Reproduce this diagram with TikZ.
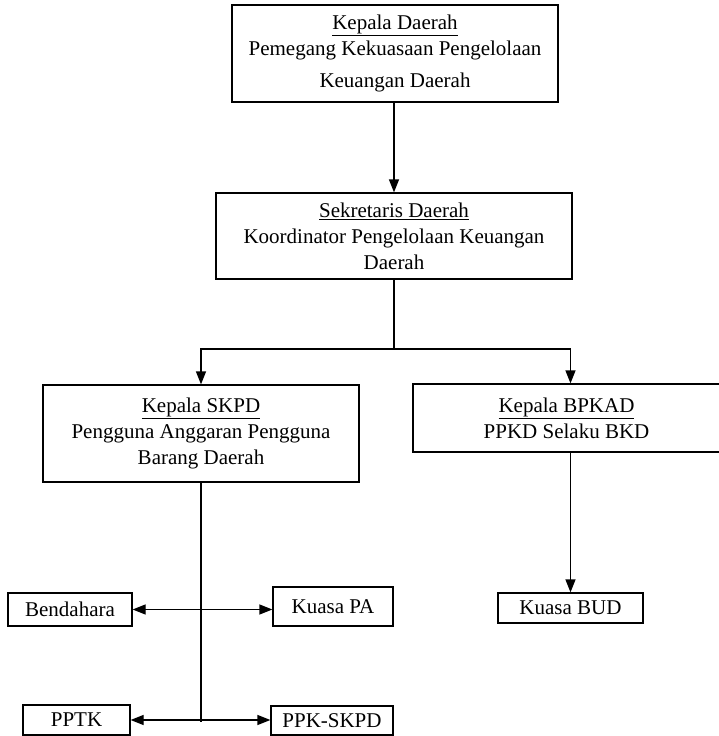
\documentclass[tikz,border=0pt]{standalone}
\usepackage{fontspec}
\setmainfont{Liberation Serif}
\usetikzlibrary{arrows.meta}

\begin{document}
\begin{tikzpicture}[x=1pt, y=-1pt,
  box/.style={draw, line width=1.2pt, align=center, inner sep=0pt,
              font=\fontsize{21}{26}\selectfont},
  link/.style={line width=1.2pt},
  arr/.style={link, -{Triangle[length=13pt, width=10pt]}},
  biarr/.style={link, {Triangle[length=13pt, width=10pt]}-{Triangle[length=13pt, width=10pt]}},
]
\useasboundingbox (0,0) rectangle (719,736);

%% Top levels
\node[box, minimum width=326, minimum height=97] (kd) at (395,53.5)
  {\underline{Kepala Daerah}\\
   Pemegang Kekuasaan Pengelolaan\\[6pt]
   Keuangan Daerah};
\node[box, minimum width=356, minimum height=86] (sekda) at (394,236)
  {\underline{Sekretaris Daerah}\\
   Koordinator Pengelolaan Keuangan\\
   Daerah};

%% Second level
\node[box, minimum width=316, minimum height=97] (skpd) at (201,433.5)
  {\underline{Kepala SKPD}\\
   Pengguna Anggaran Pengguna\\
   Barang Daerah};
\node[box, minimum width=307, minimum height=68] (bpkad) at (566.5,418)
  {\underline{Kepala BPKAD}\\
   PPKD Selaku BKD};

%% Lower boxes
\node[box, minimum width=145, minimum height=30] (bud) at (570.5,608) {Kuasa BUD};
\node[box, minimum width=124, minimum height=33] (bend) at (70,609.5) {Bendahara};
\node[box, minimum width=120, minimum height=39] (kpa) at (333,606.5) {Kuasa PA};
\node[box, minimum width=107, minimum height=30] (pptk) at (76.5,720) {PPTK};
\node[box, minimum width=122, minimum height=29] (ppk) at (332,720.5) {PPK-SKPD};

%% Connectors
\coordinate (split) at (394,349);
\coordinate (trunk) at (201,722);
\draw[arr] (sekda.north |- kd.south) -- (sekda.north);
\draw[link] (sekda.south) -- (split);
\draw[arr] (split) -| (skpd.north);
\draw[arr] (split) -| (bud.north |- bpkad.north);
\draw[arr] (bud.north |- bpkad.south) -- (bud.north);
\draw[link] (skpd.south) -- (trunk);
\draw[biarr] (bend.east) -- (bend.east -| kpa.west);
\draw[biarr] (pptk.east) -- (pptk.east -| ppk.west);
\end{tikzpicture}
\end{document}
